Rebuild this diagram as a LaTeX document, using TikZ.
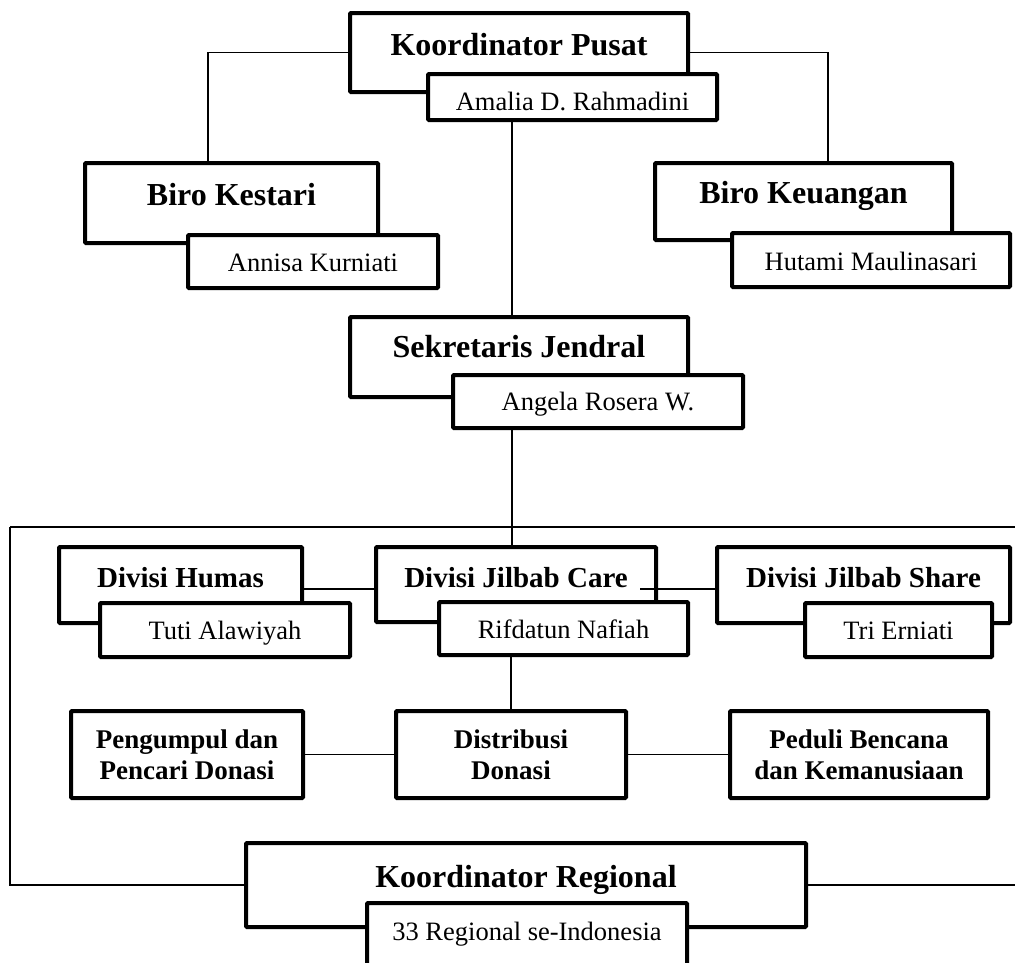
\documentclass[tikz,border=0pt]{standalone}
\usepackage{fontspec}
\setmainfont{Liberation Serif}
\begin{document}
\begin{tikzpicture}[x=1pt, y=-1pt,
  card/.style n args={3}{draw, line width=4pt, fill=white, rounded corners=1pt,
    outer sep=0pt, inner sep=0pt, anchor=north west,
    minimum width=#1pt, text height=#2pt, text depth=#3pt},
  block/.style n args={2}{draw, line width=4pt, fill=white, rounded corners=1pt,
    outer sep=0pt, inner sep=0pt, anchor=north west, align=center,
    minimum width=#1pt, minimum height=#2pt,
    font={\fontsize{27}{31}\selectfont\bfseries}},
  title/.style={font={\fontsize{32}{38}\selectfont\bfseries}},
  division/.style={font={\fontsize{29}{34}\selectfont\bfseries}},
  person/.style={font={\fontsize{26.5}{31}\selectfont}},
  link/.style={line width=1.3pt}]

\clip (0,0) rectangle (1015,962);
\coordinate (spine) at (512,0);
\coordinate (busl) at (10,527);
\coordinate (busr) at (1030,527);
\coordinate (divline) at (0,589);

\node[card={338}{42}{37}, title] (pusat) at (350,13) {Koordinator Pusat};
\node[card={289}{36}{10}, person] (amalia) at (428,74) {Amalia D. Rahmadini};

\node[card={293}{42}{38}, title] (kestari) at (85,163) {Biro Kestari};
\node[card={250}{36}{17}, person] (annisa) at (188,235) {Annisa Kurniati};

\node[card={297}{40}{37}, title] (keuangan) at (655,163) {Biro Keuangan};
\node[card={278}{37}{17}, person] (hutami) at (732,233) {Hutami Maulinasari};

\node[card={338}{40}{40}, title] (sekjen) at (350,317) {Sekretaris Jendral};
\node[card={290}{35}{18}, person] (angela) at (453,375) {Angela Rosera W.};

\node[card={243}{40}{36}, division] (humas) at (59,547) {Divisi Humas};
\node[card={250}{36}{18}, person] (tuti) at (100,603) {Tuti Alawiyah};

\node[card={280}{40}{35}, division] (care) at (376,547) {Divisi Jilbab Care};
\node[card={249}{36}{17}, person] (rifdatun) at (439,602) {Rifdatun Nafiah};

\node[card={293}{40}{36}, division] (share) at (717,547) {Divisi Jilbab Share};
\node[card={187}{36}{18}, person] (tri) at (805,603) {Tri Erniati};

\node[block={232}{87}] (pengumpul) at (71,711) {Pengumpul dan\\Pencari Donasi};
\node[block={230}{87}] (distribusi) at (396,711) {Distribusi\\Donasi};
\node[block={258}{87}] (peduli) at (730,711) {Peduli Bencana\\dan Kemanusiaan};

\node[card={560}{44}{40}, title] (regional) at (246,843) {Koordinator Regional};
\node[card={320}{37}{43}, person] (regsub) at (367,903) {33 Regional se-Indonesia};

\draw[link] (pusat.west) -| ([xshift=-23.5pt]kestari.north);
\draw[link] (pusat.east) -| ([xshift=24.5pt]keuangan.north);
\draw[link] (amalia.south -| spine) -- (sekjen.north -| spine);
\draw[link] (angela.south -| spine) -- (care.north -| spine);
\draw[link] (busl) -- (busr);
\draw[link] (regional.west) -| (busl);
\draw[link] (regional.east) -- (regional.east -| busr);
\draw[link] (humas.east |- divline) -- (care.west |- divline);
\draw[link] ([xshift=-16pt]care.east |- divline) -- (share.west |- divline);
\draw[link] (rifdatun.south -| distribusi.north) -- (distribusi.north);
\draw[link] (pengumpul.east) -- (distribusi.west);
\draw[link] (distribusi.east) -- (peduli.west);
\end{tikzpicture}
\end{document}
